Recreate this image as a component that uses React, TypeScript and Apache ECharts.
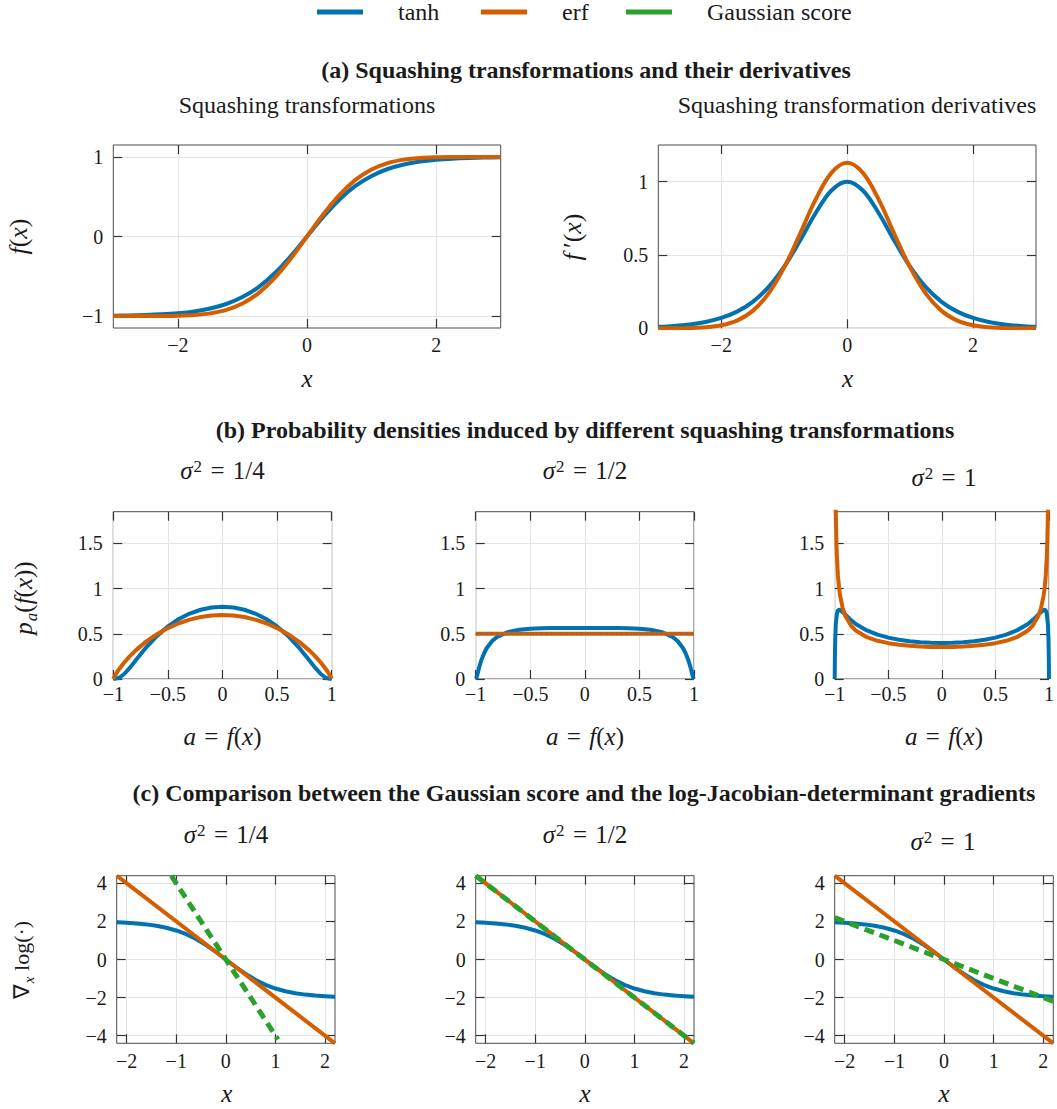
import React, { useEffect, useRef } from 'react';
import * as echarts from 'echarts';

const NAMES = ['tanh', 'erf', 'Gaussian score'];
const COLORS = ['#0072B2', '#D55E00', '#2CA02C'];
const REF_NAME = 'uniform reference';
const REF_COLOR = '#6f6f6f';

// (a) squashing transformations and derivatives
const A_X = [-3, -2.75, -2.5, -2.25, -2, -1.75, -1.5, -1.25, -1, -0.75, -0.5, -0.25, 0, 0.25, 0.5, 0.75, 1, 1.25, 1.5, 1.75, 2, 2.25, 2.5, 2.75, 3];
const A_TANH = [-0.9951, -0.9918, -0.9866, -0.978, -0.964, -0.9414, -0.9051, -0.8483, -0.7616, -0.6351, -0.4621, -0.2449, 0, 0.2449, 0.4621, 0.6351, 0.7616, 0.8483, 0.9051, 0.9414, 0.964, 0.978, 0.9866, 0.9918, 0.9951];
const A_ERF = [-1, -0.9999, -0.9996, -0.9985, -0.9953, -0.9867, -0.9661, -0.9229, -0.8427, -0.7112, -0.5205, -0.2763, 0, 0.2763, 0.5205, 0.7112, 0.8427, 0.9229, 0.9661, 0.9867, 0.9953, 0.9985, 0.9996, 0.9999, 1];
const A_DTANH = [0.0099, 0.0163, 0.0266, 0.0435, 0.0707, 0.1138, 0.1807, 0.2804, 0.42, 0.5966, 0.7864, 0.94, 1, 0.94, 0.7864, 0.5966, 0.42, 0.2804, 0.1807, 0.1138, 0.0707, 0.0435, 0.0266, 0.0163, 0.0099];
const A_DERF = [0.0001, 0.0005, 0.0022, 0.0071, 0.0207, 0.0528, 0.1189, 0.2365, 0.4151, 0.643, 0.8788, 1.06, 1.1284, 1.06, 0.8788, 0.643, 0.4151, 0.2365, 0.1189, 0.0528, 0.0207, 0.0071, 0.0022, 0.0005, 0.0001];

// (b) densities, sigma^2 = 1/4
const B1_TANH_A = [-1, -0.95, -0.9, -0.85, -0.8, -0.7, -0.6, -0.5, -0.4, -0.3, -0.2, -0.1, 0, 0.1, 0.2, 0.3, 0.4, 0.5, 0.6, 0.7, 0.8, 0.85, 0.9, 0.95, 1];
const B1_TANH = [0, 0.01, 0.0551, 0.1225, 0.1983, 0.3476, 0.4769, 0.5818, 0.6634, 0.7239, 0.7656, 0.7899, 0.7979, 0.7899, 0.7656, 0.7239, 0.6634, 0.5818, 0.4769, 0.3476, 0.1983, 0.1225, 0.0551, 0.01, 0];
const B1_ERF_A = [-1, -0.999, -0.99, -0.97, -0.95, -0.9, -0.85, -0.8, -0.7, -0.6, -0.5, -0.4, -0.3, -0.2, -0.1, 0, 0.1, 0.2, 0.3, 0.4, 0.5, 0.6, 0.7, 0.8, 0.85, 0.9, 0.95, 0.97, 0.99, 0.999, 1];
const B1_ERF = [0, 0.0032, 0.0256, 0.0671, 0.1036, 0.1828, 0.2509, 0.3111, 0.4132, 0.4962, 0.5633, 0.6163, 0.6565, 0.6848, 0.7015, 0.7071, 0.7015, 0.6848, 0.6565, 0.6163, 0.5633, 0.4962, 0.4132, 0.3111, 0.2509, 0.1828, 0.1036, 0.0671, 0.0256, 0.0032, 0];

// (b) sigma^2 = 1/2
const B2_TANH_A = [-1, -0.995, -0.99, -0.98, -0.97, -0.95, -0.925, -0.9, -0.85, -0.8, -0.7, -0.6, -0.5, -0.4, -0.3, -0.2, -0.1, 0, 0.1, 0.2, 0.3, 0.4, 0.5, 0.6, 0.7, 0.8, 0.85, 0.9, 0.925, 0.95, 0.97, 0.98, 0.99, 0.995, 1];
const B2_TANH = [0, 0.0071, 0.0257, 0.0726, 0.1199, 0.2019, 0.2802, 0.3399, 0.4197, 0.4688, 0.5214, 0.5453, 0.5563, 0.5613, 0.5634, 0.564, 0.5642, 0.5642, 0.5642, 0.564, 0.5634, 0.5613, 0.5563, 0.5453, 0.5214, 0.4688, 0.4197, 0.3399, 0.2802, 0.2019, 0.1199, 0.0726, 0.0257, 0.0071, 0];
const B2_ERF_A = [-1, 0, 1];
const B2_ERF = [0.5, 0.5, 0.5];
const B2_REF_A = [-1, 1];
const B2_REF = [0.5, 0.5];

// (b) sigma^2 = 1
const B3_TANH_A = [-1, -0.9999, -0.999, -0.998, -0.995, -0.99, -0.98, -0.97, -0.96, -0.95, -0.925, -0.9, -0.85, -0.8, -0.7, -0.6, -0.5, -0.4, -0.3, -0.2, -0.1, 0, 0.1, 0.2, 0.3, 0.4, 0.5, 0.6, 0.7, 0.8, 0.85, 0.9, 0.925, 0.95, 0.96, 0.97, 0.98, 0.99, 0.995, 0.998, 0.999, 0.9999, 1];
const B3_TANH = [0, 0.0094, 0.1459, 0.2537, 0.4489, 0.604, 0.7193, 0.7564, 0.7662, 0.7642, 0.7399, 0.7103, 0.6531, 0.606, 0.537, 0.4902, 0.4574, 0.4341, 0.4179, 0.4071, 0.4009, 0.3989, 0.4009, 0.4071, 0.4179, 0.4341, 0.4574, 0.4902, 0.537, 0.606, 0.6531, 0.7103, 0.7399, 0.7642, 0.7662, 0.7564, 0.7193, 0.604, 0.4489, 0.2537, 0.1459, 0.0094, 0];
const B3_ERF_A = [-0.995, -0.99, -0.985, -0.98, -0.97, -0.96, -0.95, -0.925, -0.9, -0.85, -0.8, -0.7, -0.6, -0.5, -0.4, -0.3, -0.2, -0.1, 0, 0.1, 0.2, 0.3, 0.4, 0.5, 0.6, 0.7, 0.8, 0.85, 0.9, 0.925, 0.95, 0.96, 0.97, 0.98, 0.985, 0.99, 0.995];
const B3_ERF = [2.548, 1.8573, 1.5522, 1.3681, 1.148, 1.0142, 0.9238, 0.7812, 0.6954, 0.5936, 0.5331, 0.4625, 0.4221, 0.3962, 0.3788, 0.367, 0.3593, 0.355, 0.3536, 0.355, 0.3593, 0.367, 0.3788, 0.3962, 0.4221, 0.4625, 0.5331, 0.5936, 0.6954, 0.7812, 0.9238, 1.0142, 1.148, 1.3681, 1.5522, 1.8573, 2.548];

// (c) gradients
const C_X = [-2.2, -2, -1.8, -1.6, -1.4, -1.2, -1, -0.8, -0.6, -0.4, -0.2, 0, 0.2, 0.4, 0.6, 0.8, 1, 1.2, 1.4, 1.6, 1.8, 2, 2.2];
const C_TANH = [1.9515, 1.9281, 1.8936, 1.8433, 1.7707, 1.6673, 1.5232, 1.3281, 1.0741, 0.7599, 0.3948, 0, -0.3948, -0.7599, -1.0741, -1.3281, -1.5232, -1.6673, -1.7707, -1.8433, -1.8936, -1.9281, -1.9515];
const C_ERF_X = [-2.2, 0, 2.2];
const C_ERF = [4.4, 0, -4.4];
const C_G1_X = [-1.1, 0, 1.05];
const C_G1 = [4.4, 0, -4.2];
const C_G2_X = [-2.2, 0, 2.2];
const C_G2 = [4.4, 0, -4.4];
const C_G3_X = [-2.2, 0, 2.2];
const C_G3 = [2.2, 0, -2.2];

// ticks
const X_TICKS_A = [-2, 0, 2];
const Y_TICKS_A_LEFT = [-1, 0, 1];
const Y_TICKS_A_RIGHT = [0, 0.5, 1];
const X_TICKS_B = [-1, -0.5, 0, 0.5, 1];
const Y_TICKS_B = [0, 0.5, 1, 1.5];
const X_TICKS_C = [-2, -1, 0, 1, 2];
const Y_TICKS_C = [-4, -2, 0, 2, 4];

// texts
const HEADINGS = [
  '(a) Squashing transformations and their derivatives',
  '(b) Probability densities induced by different squashing transformations',
  '(c) Comparison between the Gaussian score and the log-Jacobian-determinant gradients',
];
const SUBTITLES_A = ['Squashing transformations', 'Squashing transformation derivatives'];
const SIGMAS = ['1/4', '1/2', '1'];

const SERIF = "'Liberation Serif', 'Times New Roman', Times, serif";
const INK = '#1a1a1a';
const FRAME = '#4d4d4d';
const GRIDLINE = '#e4e4e4';
const SP = '\u2004';

const fmt = (v: number) => (v < 0 ? '\u2212' : '') + String(Math.abs(v));
const pts = (xs: number[], ys: number[]) => xs.map((x, i) => [x, ys[i]]);

type Panel = {
  box: [number, number, number, number];
  x: [number, number];
  y: [number, number];
  xt: number[];
  yt: number[];
  xm: number;
  ym: number;
};

const PANELS: Panel[] = [
  { box: [113.3, 145, 387.4, 183], x: [-3, 3], y: [-1.15, 1.15], xt: X_TICKS_A, yt: Y_TICKS_A_LEFT, xm: 6.5, ym: 10 },
  { box: [658.3, 145, 377.7, 183.3], x: [-3, 3], y: [0, 1.25], xt: X_TICKS_A, yt: Y_TICKS_A_RIGHT, xm: 6.5, ym: 10 },
  { box: [113.3, 511.7, 218.4, 167.3], x: [-1, 1], y: [0, 1.85], xt: X_TICKS_B, yt: Y_TICKS_B, xm: 5, ym: 10.5 },
  { box: [475.7, 511.7, 218.3, 167.3], x: [-1, 1], y: [0, 1.85], xt: X_TICKS_B, yt: Y_TICKS_B, xm: 5, ym: 10.5 },
  { box: [834.7, 511.7, 218.6, 167.3], x: [-1, 1], y: [0, 1.85], xt: X_TICKS_B, yt: Y_TICKS_B, xm: 5, ym: 10.5 },
  { box: [116.7, 875.7, 218.3, 167.6], x: [-2.2, 2.2], y: [-4.4, 4.4], xt: X_TICKS_C, yt: Y_TICKS_C, xm: 7.5, ym: 10 },
  { box: [475.7, 875.7, 218.3, 167.6], x: [-2.2, 2.2], y: [-4.4, 4.4], xt: X_TICKS_C, yt: Y_TICKS_C, xm: 7.5, ym: 10 },
  { box: [834.7, 875.7, 218.6, 167.6], x: [-2.2, 2.2], y: [-4.4, 4.4], xt: X_TICKS_C, yt: Y_TICKS_C, xm: 7.5, ym: 10 },
];

function mathRich(size: number) {
  const lh = size + 1;
  const base = { fontFamily: SERIF, fontSize: size, lineHeight: lh, verticalAlign: 'top', fill: INK };
  const small = Math.round(size * 0.66);
  return {
    m: { ...base },
    i: { ...base, fontStyle: 'italic' },
    s: { ...base, fontStyle: 'italic', fontSize: small, lineHeight: small, padding: [Math.round(size * 0.48), 0, 0, 1] },
    p: { ...base, fontSize: small, lineHeight: small, padding: [0, 0, 0, 1] },
  };
}

function mathText(text: string, x: number, y: number, size: number, rotate = false) {
  return {
    type: 'text',
    x,
    y,
    rotation: rotate ? Math.PI / 2 : 0,
    silent: true,
    style: { text, rich: mathRich(size), align: 'center', verticalAlign: 'middle', fill: INK },
  };
}

function plainText(text: string, x: number, y: number, size: number, bold = false) {
  return {
    type: 'text',
    x,
    y,
    silent: true,
    style: {
      text,
      fontFamily: SERIF,
      fontSize: size,
      fontWeight: bold ? 'bold' : 'normal',
      fill: INK,
      align: 'center',
      verticalAlign: 'middle',
    },
  };
}

function buildOption() {
  const grid = PANELS.map((p) => ({
    left: p.box[0],
    top: p.box[1],
    width: p.box[2],
    height: p.box[3],
    show: true,
    borderColor: FRAME,
    borderWidth: 1,
    backgroundColor: 'transparent',
  }));

  const tickLine = { color: '#333333', width: 1.2 };
  const labelStyle = { color: INK, fontFamily: SERIF, fontSize: 20 };
  const xAxis: any[] = [];
  const yAxis: any[] = [];
  PANELS.forEach((p, i) => {
    xAxis.push({
      type: 'value', gridIndex: i, position: 'bottom', min: p.x[0], max: p.x[1],
      axisLine: { show: false, onZero: false },
      axisTick: { show: true, inside: true, length: 9, customValues: p.xt, lineStyle: tickLine },
      axisLabel: { show: true, customValues: p.xt, formatter: fmt, margin: p.xm, ...labelStyle },
      splitLine: { show: true, lineStyle: { color: GRIDLINE, width: 1 } },
    });
    xAxis.push({
      type: 'value', gridIndex: i, position: 'top', min: p.x[0], max: p.x[1],
      axisLine: { show: false, onZero: false },
      axisTick: { show: true, inside: true, length: 9, customValues: p.xt, lineStyle: tickLine },
      axisLabel: { show: false },
      splitLine: { show: false },
    });
    yAxis.push({
      type: 'value', gridIndex: i, position: 'left', min: p.y[0], max: p.y[1],
      axisLine: { show: false, onZero: false },
      axisTick: { show: true, inside: true, length: 9, customValues: p.yt, lineStyle: tickLine },
      axisLabel: { show: true, customValues: p.yt, formatter: fmt, margin: p.ym, ...labelStyle },
      splitLine: { show: true, lineStyle: { color: GRIDLINE, width: 1 } },
    });
    yAxis.push({
      type: 'value', gridIndex: i, position: 'right', min: p.y[0], max: p.y[1],
      axisLine: { show: false, onZero: false },
      axisTick: { show: true, inside: true, length: 9, customValues: p.yt, lineStyle: tickLine },
      axisLabel: { show: false },
      splitLine: { show: false },
    });
  });

  const line = (k: number, g: number, data: number[][], extra: any = {}) => ({
    type: 'line',
    name: NAMES[k],
    xAxisIndex: g * 2,
    yAxisIndex: g * 2,
    data,
    symbol: 'none',
    showSymbol: false,
    clip: true,
    silent: true,
    z: 3 + k,
    color: COLORS[k],
    itemStyle: { color: COLORS[k] },
    lineStyle: {
      color: COLORS[k],
      width: k === 2 ? 5 : 4,
      type: k === 2 ? [10, 6] : 'solid',
      cap: 'butt',
      join: 'round',
    },
    ...extra,
  });

  const series: any[] = [
    line(0, 0, pts(A_X, A_TANH), { smooth: 0.35 }),
    line(1, 0, pts(A_X, A_ERF), { smooth: 0.35 }),
    line(0, 1, pts(A_X, A_DTANH), { smooth: 0.35 }),
    line(1, 1, pts(A_X, A_DERF), { smooth: 0.35 }),
    line(0, 2, pts(B1_TANH_A, B1_TANH)),
    line(1, 2, pts(B1_ERF_A, B1_ERF)),
    line(0, 3, pts(B2_TANH_A, B2_TANH)),
    line(1, 3, pts(B2_ERF_A, B2_ERF)),
    {
      type: 'line',
      name: REF_NAME,
      xAxisIndex: 6,
      yAxisIndex: 6,
      data: pts(B2_REF_A, B2_REF),
      symbol: 'none',
      silent: true,
      z: 9,
      color: REF_COLOR,
      lineStyle: { color: REF_COLOR, width: 2, type: [2, 3] },
    },
    line(0, 4, pts(B3_TANH_A, B3_TANH)),
    line(1, 4, pts(B3_ERF_A, B3_ERF)),
    line(0, 5, pts(C_X, C_TANH)),
    line(1, 5, pts(C_ERF_X, C_ERF)),
    line(2, 5, pts(C_G1_X, C_G1)),
    line(0, 6, pts(C_X, C_TANH)),
    line(1, 6, pts(C_ERF_X, C_ERF)),
    line(2, 6, pts(C_G2_X, C_G2)),
    line(0, 7, pts(C_X, C_TANH)),
    line(1, 7, pts(C_ERF_X, C_ERF)),
    line(2, 7, pts(C_G3_X, C_G3)),
  ];

  const sigma = (v: string) => `{i|σ}{p|2}{m|${SP}=${SP}${v}}`;
  const aLabel = `{i|a}{m|${SP}=${SP}}{i|f}{m|(}{i|x}{m|)}`;
  const graphic: any[] = [
    plainText(HEADINGS[0], 586, 70, 24, true),
    plainText(HEADINGS[1], 585, 430, 24, true),
    plainText(HEADINGS[2], 584, 793, 24, true),
    plainText(SUBTITLES_A[0], 307, 105, 24),
    plainText(SUBTITLES_A[1], 857, 105, 24),
    mathText(sigma(SIGMAS[0]), 222.5, 471, 25),
    mathText(sigma(SIGMAS[1]), 585, 471, 25),
    mathText(sigma(SIGMAS[2]), 944, 477.5, 25),
    mathText(sigma(SIGMAS[0]), 226, 834.5, 25),
    mathText(sigma(SIGMAS[1]), 585, 834.5, 25),
    mathText(sigma(SIGMAS[2]), 943, 841.5, 25),
    mathText('{i|x}', 307, 379, 25),
    mathText('{i|x}', 847.5, 379, 25),
    mathText(aLabel, 222.5, 737, 25),
    mathText(aLabel, 585, 737, 25),
    mathText(aLabel, 944, 737, 25),
    mathText('{i|x}', 226.7, 1094, 25),
    mathText('{i|x}', 585, 1094, 25),
    mathText('{i|x}', 944, 1094, 25),
    mathText('{i|f}{m|(}{i|x}{m|)}', 19, 236.5, 26, true),
    mathText('{i|f}{m|\u2009\u2032(}{i|x}{m|)}', 573, 237, 26, true),
    mathText('{i|p}{s|a}{m|(}{i|f}{m|(}{i|x}{m|))}', 24, 598, 25, true),
    mathText('{m|\u2207}{s|x}{m| log(\u00b7)}', 22, 960, 22, true),
  ];

  return {
    animation: false,
    backgroundColor: '#ffffff',
    legend: {
      left: 317,
      top: 0,
      padding: 0,
      itemWidth: 46,
      itemHeight: 5,
      itemGap: 35,
      icon: 'rect',
      selectedMode: false,
      itemStyle: { borderWidth: 0 },
      textStyle: { fontFamily: SERIF, fontSize: 24, lineHeight: 24, color: INK, padding: [0, 0, 0, 30] },
      data: [
        { name: NAMES[0], textStyle: { width: 48 } },
        { name: NAMES[1], textStyle: { width: 29 } },
        { name: NAMES[2] },
      ],
    },
    grid,
    xAxis,
    yAxis,
    series,
    graphic,
  };
}

export default function App() {
  const ref = useRef<HTMLDivElement>(null);
  useEffect(() => {
    if (!ref.current) return;
    const chart = echarts.init(ref.current, null, { renderer: 'svg' });
    chart.setOption(buildOption() as any);
    return () => chart.dispose();
  }, []);
  return (
    <div
      ref={ref}
      style={{ position: 'absolute', left: 0, top: 0, width: 1057, height: 1109, background: '#fff' }}
    />
  );
}
